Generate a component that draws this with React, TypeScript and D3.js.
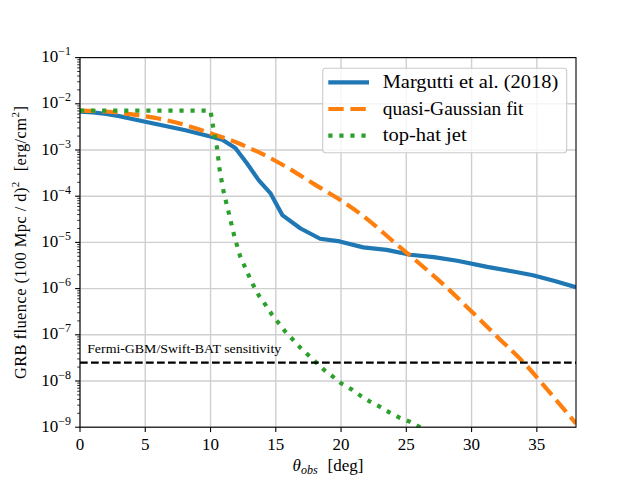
import React, { useEffect, useRef } from 'react';
import * as d3 from 'd3';

// Margutti et al. (2018) curve
const blueTheta = [0, 1, 2, 3, 4, 5, 6, 7, 8, 9, 10, 10.9, 11.9, 12.8, 13.7, 14.6, 15.5, 16.9, 18.4, 19.9, 21.7, 23.5, 25.3, 27.1, 28.9, 31.2, 33.2, 34.7, 36.3, 38];
const blueFluence = [6.8e-3, 6.5e-3, 6.0e-3, 5.4e-3, 4.7e-3, 4.1e-3, 3.55e-3, 3.1e-3, 2.7e-3, 2.3e-3, 1.95e-3, 1.66e-3, 1.1e-3, 5.1e-4, 2.2e-4, 1.15e-4, 3.9e-5, 2.0e-5, 1.2e-5, 1.05e-5, 7.8e-6, 6.9e-6, 5.4e-6, 4.8e-6, 4.0e-6, 2.95e-6, 2.35e-6, 1.95e-6, 1.48e-6, 1.07e-6];

// quasi-Gaussian fit
const orangeTheta = [0, 2, 4, 6, 8, 10, 12, 14, 16, 18, 20, 22, 24, 26, 28, 30, 32, 34, 36, 38];
const orangeFluence = [7.1e-3, 6.8e-3, 5.9e-3, 4.8e-3, 3.5e-3, 2.3e-3, 1.45e-3, 8.1e-4, 4.0e-4, 1.78e-4, 8.1e-5, 3.2e-5, 1.05e-5, 3.5e-6, 1.12e-6, 3.2e-7, 8.9e-8, 2.5e-8, 5.6e-9, 1.2e-9];

// top-hat jet
const greenTheta = [0, 10, 10.2, 10.5, 10.7, 11.0, 11.4, 11.8, 12.26, 12.6, 12.95, 13.3, 13.7, 14.2, 14.7, 15.2, 15.7, 16.3, 16.9, 17.5, 18.1, 18.7, 19.4, 20.0, 20.8, 21.5, 22.2, 23.0, 23.7, 24.5, 25.3, 26.0, 26.5];
const greenFluence = [7.1e-3, 7.1e-3, 3.16e-3, 1.1e-3, 3.7e-4, 1.26e-4, 4.3e-5, 1.45e-5, 5.1e-6, 3.1e-6, 1.86e-6, 1.15e-6, 7.1e-7, 4.5e-7, 2.75e-7, 1.82e-7, 1.2e-7, 7.9e-8, 5.2e-8, 3.6e-8, 2.5e-8, 1.74e-8, 1.23e-8, 8.9e-9, 6.6e-9, 4.8e-9, 3.6e-9, 2.75e-9, 2.1e-9, 1.6e-9, 1.3e-9, 1.02e-9, 8.5e-10];

const sensitivity = 2.5e-8;
const xTicks = [0, 5, 10, 15, 20, 25, 30, 35];
const yExponents = [-9, -8, -7, -6, -5, -4, -3, -2, -1];
const legendLabels = ['Margutti et al. (2018)', 'quasi-Gaussian fit', 'top-hat jet'];

const FONT = '"Liberation Serif", "DejaVu Serif", serif';

const App = () => {
  const svgRef = useRef(null);

  useEffect(() => {
    const svg = d3.select(svgRef.current);
    svg.selectAll('*').remove();

    const left = 80, right = 576, top = 57.6, bottom = 427.2;
    const x = d3.scaleLinear().domain([0, 38]).range([left, right]);
    const y = d3.scaleLog().domain([1e-9, 1e-1]).range([bottom, top]);

    svg.append('defs').append('clipPath').attr('id', 'plotclip')
      .append('rect').attr('x', left).attr('y', top)
      .attr('width', right - left).attr('height', bottom - top);

    // grid
    const grid = svg.append('g').attr('stroke', '#cfcfcf').attr('stroke-width', 1.4);
    xTicks.forEach((t) => {
      grid.append('line').attr('x1', x(t)).attr('x2', x(t)).attr('y1', top).attr('y2', bottom);
    });
    yExponents.forEach((e) => {
      grid.append('line').attr('x1', left).attr('x2', right).attr('y1', y(10 ** e)).attr('y2', y(10 ** e));
    });

    const plot = svg.append('g').attr('clip-path', 'url(#plotclip)');

    const makeLine = (curve: any) =>
      d3.line<[number, number]>().x((d) => x(d[0])).y((d) => y(d[1])).curve(curve);

    plot.append('path')
      .attr('d', makeLine(d3.curveLinear)(blueTheta.map((t, i) => [t, blueFluence[i]])))
      .attr('fill', 'none').attr('stroke', '#1f77b4').attr('stroke-width', 4.17)
      .attr('stroke-linejoin', 'round');

    plot.append('path')
      .attr('d', makeLine(d3.curveMonotoneX)(orangeTheta.map((t, i) => [t, orangeFluence[i]])))
      .attr('fill', 'none').attr('stroke', '#ff7f0e').attr('stroke-width', 4.17)
      .attr('stroke-dasharray', '15.4,6.7');

    plot.append('path')
      .attr('d', makeLine(d3.curveLinear)(greenTheta.map((t, i) => [t, greenFluence[i]])))
      .attr('fill', 'none').attr('stroke', '#2ca02c').attr('stroke-width', 4.17)
      .attr('stroke-dasharray', '4.17,6.88');

    // sensitivity line
    plot.append('line')
      .attr('x1', x(0)).attr('x2', x(38)).attr('y1', y(sensitivity)).attr('y2', y(sensitivity))
      .attr('stroke', 'black').attr('stroke-width', 2.08).attr('stroke-dasharray', '7.7,3.3');

    svg.append('text')
      .attr('x', x(0.55)).attr('y', y(sensitivity) - 9.5)
      .attr('font-family', FONT).attr('font-size', 12.5)
      .attr('textLength', 194).attr('lengthAdjust', 'spacingAndGlyphs')
      .text('Fermi-GBM/Swift-BAT sensitivity');

    // spines
    svg.append('rect').attr('x', left).attr('y', top)
      .attr('width', right - left).attr('height', bottom - top)
      .attr('fill', 'none').attr('stroke', 'black').attr('stroke-width', 1.1);

    // x ticks
    const xAxis = svg.append('g');
    xTicks.forEach((t) => {
      xAxis.append('line').attr('x1', x(t)).attr('x2', x(t)).attr('y1', bottom).attr('y2', bottom + 4.9)
        .attr('stroke', 'black').attr('stroke-width', 1.1);
      xAxis.append('text').attr('x', x(t)).attr('y', bottom + 22.5)
        .attr('text-anchor', 'middle').attr('font-family', FONT).attr('font-size', 17)
        .text(t);
    });

    // y ticks
    const yAxis = svg.append('g');
    yExponents.forEach((e) => {
      const yy = y(10 ** e);
      yAxis.append('line').attr('x1', left - 4.9).attr('x2', left).attr('y1', yy).attr('y2', yy)
        .attr('stroke', 'black').attr('stroke-width', 1.1);
      const label = yAxis.append('text').attr('x', left - 9).attr('y', yy + 4.5)
        .attr('text-anchor', 'end').attr('font-family', FONT).attr('font-size', 17);
      label.append('tspan').text('10');
      label.append('tspan').attr('dy', -7).attr('font-size', 12).text(`\u2212${-e}`);
      if (e < -1) {
        for (let m = 2; m <= 9; m++) {
          const ym = y(m * 10 ** e);
          yAxis.append('line').attr('x1', left - 2.8).attr('x2', left).attr('y1', ym).attr('y2', ym)
            .attr('stroke', 'black').attr('stroke-width', 0.8);
        }
      }
    });

    // axis labels
    const xl = svg.append('text').attr('x', (left + right) / 2).attr('y', 471)
      .attr('text-anchor', 'middle').attr('font-family', FONT).attr('font-size', 17);
    xl.append('tspan').attr('font-style', 'italic').text('\u03b8');
    xl.append('tspan').attr('font-style', 'italic').attr('font-size', 12).attr('dy', 3).text('obs');
    xl.append('tspan').attr('dy', -3).attr('dx', 10).text('[deg]');

    const yl = svg.append('text')
      .attr('transform', `translate(26, ${(top + bottom) / 2}) rotate(-90)`)
      .attr('text-anchor', 'middle').attr('font-family', FONT).attr('font-size', 16.5)
      .attr('letter-spacing', 0.4);
    yl.append('tspan').text('GRB fluence (100 Mpc / d)');
    yl.append('tspan').attr('dy', -7).attr('font-size', 11).text('2');
    yl.append('tspan').attr('dy', 7).attr('dx', 10).text('[erg/cm');
    yl.append('tspan').attr('dy', -7).attr('font-size', 11).text('2');
    yl.append('tspan').attr('dy', 7).text(']');

    // legend
    const lg = svg.append('g');
    lg.append('rect').attr('x', 322.7).attr('y', 68.3).attr('width', 244).attr('height', 84.4)
      .attr('rx', 3).attr('fill', 'white').attr('fill-opacity', 0.8)
      .attr('stroke', '#cccccc').attr('stroke-width', 1.1);
    const styles = [
      { color: '#1f77b4', dash: null, width: 175.6 },
      { color: '#ff7f0e', dash: '15.4,6.7', width: 140.7 },
      { color: '#2ca02c', dash: '4.17,6.88', width: 84 },
    ];
    legendLabels.forEach((lab, i) => {
      const yy = 82.3 + i * 26.7;
      const ln = lg.append('line').attr('x1', 328.3).attr('x2', 369).attr('y1', yy).attr('y2', yy)
        .attr('stroke', styles[i].color).attr('stroke-width', 4.17);
      if (styles[i].dash) ln.attr('stroke-dasharray', styles[i].dash);
      lg.append('text').attr('x', 382.7).attr('y', yy + 5.5)
        .attr('font-family', FONT).attr('font-size', 18)
        .attr('textLength', styles[i].width).attr('lengthAdjust', 'spacingAndGlyphs')
        .text(lab);
    });
  }, []);

  return (
    <svg ref={svgRef} width={640} height={480}
      style={{ position: 'absolute', left: 0, top: 0, background: 'white' }} />
  );
};

export default App;
